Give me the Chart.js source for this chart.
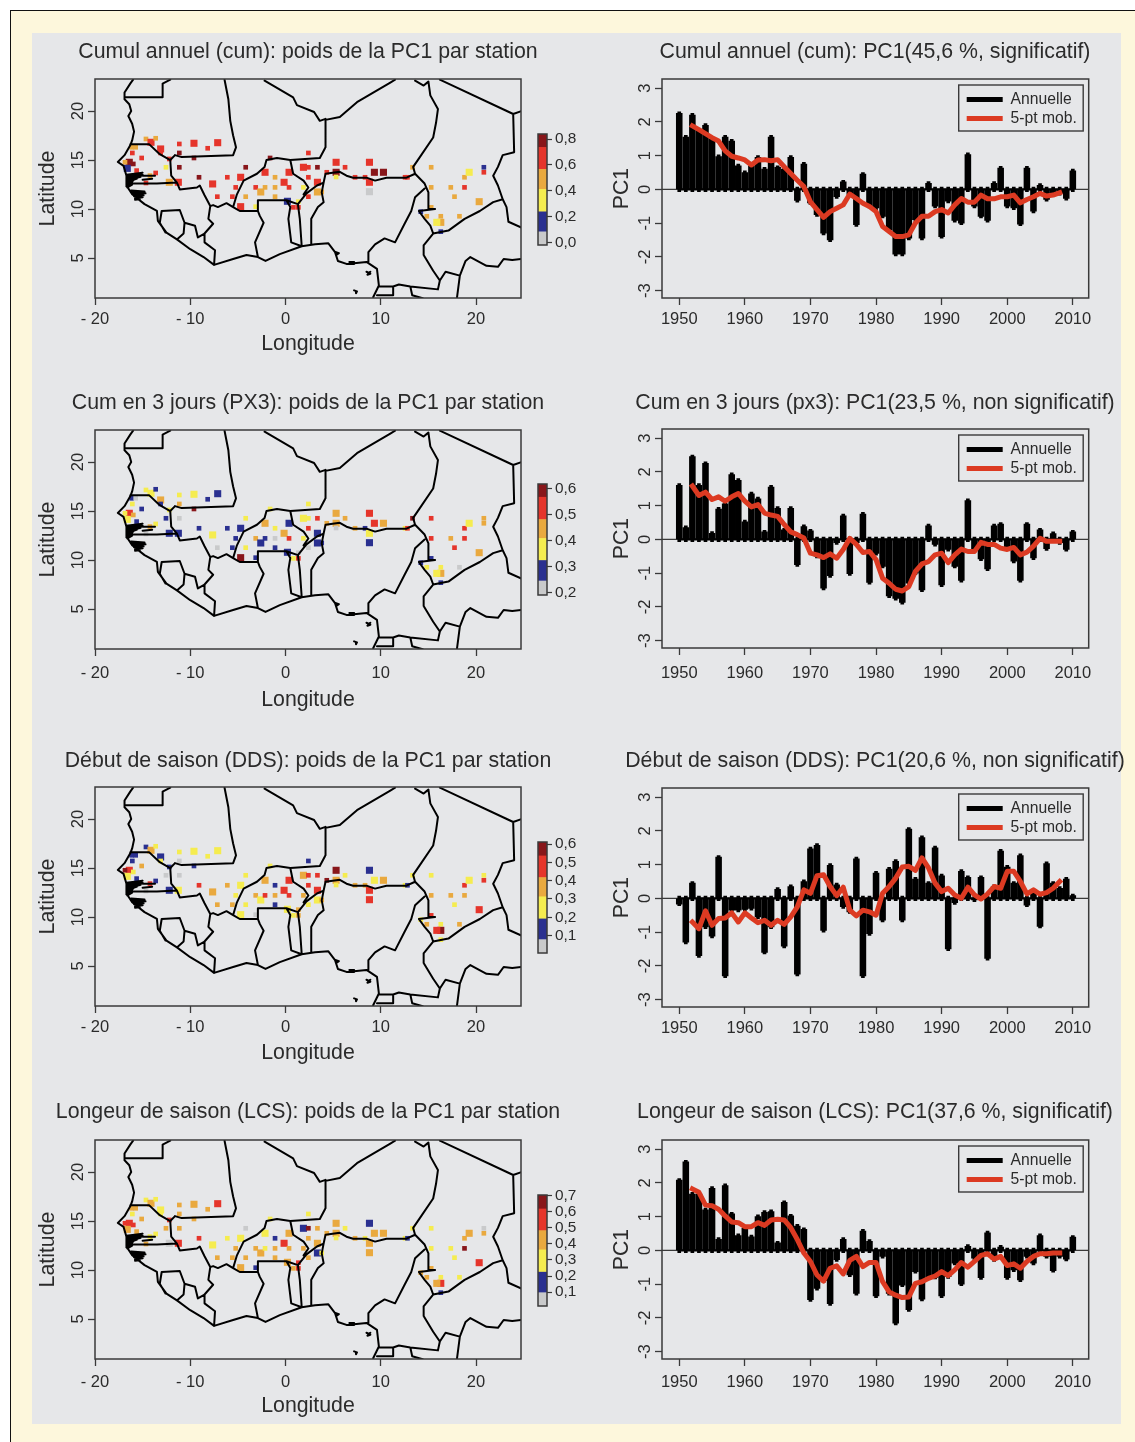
<!DOCTYPE html>
<html lang="fr">
<head>
<meta charset="utf-8">
<title>PC1 par station</title>
<script src="https://cdn.jsdelivr.net/npm/chart.js@4"></script>
<style>
html,body{margin:0;padding:0;background:#fff;overflow:hidden;width:1135px;height:1442px}
#cream{position:absolute;left:10px;top:10px;width:1140px;height:1450px;background:#fdf7dc;border:1px solid #111;box-sizing:border-box}
#panel{position:absolute;left:32px;top:33px;width:1089px;height:1391px;background:#e6e7e9}
canvas{position:absolute}
</style>
</head>
<body>
<div id="cream"></div>
<div id="panel"></div>
<script>
/* ---------- station positions (degrees) ---------- */
const stationLon = [-16.40,-16.85,-15.98,-16.61,-15.63,-16.15,-15.73,-16.08,-15.10,-14.65,-14.12,-13.63,-13.11,-13.11,-12.20,-12.55,-13.63,-14.23,-14.65,-12.20,-11.25,-11.15,-11.15,-9.61,-9.61,-11.15,-8.17,-7.12,-9.08,-7.65,-7.16,-6.11,-5.58,-5.23,-4.71,-4.71,-4.18,-4.18,-3.13,-3.13,-2.60,-2.15,-2.15,-1.62,-1.10,-1.10,-1.10,-0.15,0.37,0.37,0.20,1.35,1.35,0.83,1.88,2.40,1.88,2.40,2.40,2.40,3.35,3.35,3.35,3.80,4.33,5.31,5.31,5.31,6.25,7.30,8.35,8.81,8.81,8.81,9.33,10.28,12.55,12.80,13.33,15.29,15.29,17.35,17.74,18.79,18.79,19.28,20.33,20.82,20.82,18.26,16.30,16.30,15.88,16.30,14.83,14.20,15.29];
const stationLat = [14.77,14.77,14.60,14.15,13.92,16.30,16.30,15.72,15.21,17.15,16.81,17.22,16.13,15.72,15.11,14.26,13.68,13.41,12.66,12.73,12.73,16.64,15.72,16.71,15.21,14.26,16.20,16.77,13.24,12.56,11.26,13.24,11.26,12.21,13.24,10.24,14.26,11.26,12.21,10.24,11.74,12.21,13.75,15.21,13.24,12.21,11.26,12.73,13.75,12.21,10.79,10.75,10.17,10.17,12.21,11.26,14.26,14.26,15.72,13.24,14.26,12.73,11.74,11.74,13.75,14.77,13.75,13.27,14.26,13.24,13.24,14.77,12.73,11.77,13.75,13.75,13.24,13.24,14.26,14.26,12.21,12.21,11.26,13.24,12.21,13.75,10.75,14.26,13.75,9.26,9.26,8.64,8.64,7.69,9.26,9.73,10.17];
const stationBig = [1,0,0,1,0,0,0,0,0,0,1,0,1,0,0,0,0,0,0,1,1,0,0,1,0,0,0,1,0,1,0,0,0,0,1,1,0,0,0,0,1,0,1,0,0,0,0,1,1,0,1,0,0,0,0,0,1,0,0,0,0,1,1,0,0,1,1,0,0,0,0,1,1,1,1,1,0,0,0,0,0,0,0,0,0,1,1,0,0,0,0,1,1,0,0,0,0];

/* ---------- PC1 weights per station ---------- */
const weightsCum = [.79,.49,.79,.16,.65,.49,.49,.65,.65,.49,.65,.49,.65,.65,.65,.32,.65,.49,.65,.49,.65,.65,.79,.65,.79,.79,.65,.65,.79,.65,.65,.65,.65,.65,.65,.65,.79,.49,.65,.32,.49,.49,.65,.79,.49,.49,.49,.65,.65,.65,.16,.32,.65,.65,.32,.65,.65,.65,.65,.65,.79,.65,.49,.49,.65,.65,.79,.32,.65,.65,.65,.65,.65,.03,.79,.79,.65,.65,.49,.49,.49,.49,.49,.49,.65,.32,.49,.16,.65,.49,.49,.49,.32,.16,.49,.16,.49];
const weightsPx3 = [.52,.37,.45,.37,.28,.28,.22,.37,.28,.37,.37,.28,.45,.28,.37,.28,.37,.45,.22,.28,.28,.37,.45,.37,.59,.22,.28,.28,.28,.37,.22,.28,.28,.28,.28,.59,.37,.37,.45,.28,.28,.28,.45,.37,.37,.22,.28,.45,.28,.52,.28,.22,.52,.37,.37,.22,.37,.37,.37,.52,.52,.28,.28,.28,.45,.45,.45,.22,.45,.45,.28,.52,.37,.28,.52,.45,.37,.52,.59,.52,.52,.45,.52,.52,.52,.37,.45,.45,.45,.22,.37,.45,.37,.28,.37,.28,.28];
const weightsDds = [.47,.57,.25,.25,.13,.13,.13,.13,.36,.13,.36,.25,.13,.25,.13,.04,.13,.47,.04,.13,.25,.25,.04,.25,.13,.04,.25,.25,.47,.36,.36,.36,.36,.25,.25,.25,.25,.25,.36,.04,.25,.47,.36,.25,.13,.36,.13,.47,.47,.47,.25,.36,.36,.25,.36,.25,.36,.47,.13,.47,.47,.47,.25,.36,.57,.57,.36,.25,.25,.36,.36,.13,.47,.47,.25,.36,.25,.13,.25,.25,.36,.36,.25,.47,.36,.25,.47,.25,.47,.36,.25,.57,.47,.25,.36,.25,.47];
const weightsLcs = [.55,.55,.55,.42,.42,.42,.42,.29,.42,.29,.42,.29,.29,.29,.55,.42,.29,.29,.42,.05,.55,.42,.42,.42,.42,.42,.42,.55,.55,.29,.42,.29,.42,.42,.29,.42,.05,.42,.42,.16,.42,.29,.29,.29,.16,.42,.42,.55,.42,.42,.42,.55,.55,.42,.42,.42,.16,.66,.29,.42,.42,.42,.16,.29,.42,.42,.42,.29,.29,.42,.29,.16,.42,.42,.42,.42,.29,.16,.29,.29,.29,.29,.29,.42,.66,.42,.55,.05,.42,.29,.29,.55,.42,.16,.42,.42,.42];

/* ---------- colour bins of each map ---------- */
const binColors = ['#c9cacb','#2a3090','#f5ec4f','#e9a93f','#e5352b','#88161a'];
const breaksCum = [-.02,.082,.237,.411,.566,.736,.84];
const breaksPx3 = [.191,.245,.324,.409,.482,.568,.619];
const breaksDds = [.005,.078,.191,.312,.417,.535,.611];
const breaksLcs = [.013,.096,.224,.363,.483,.618,.705];
const ticksCum = [0,.2,.4,.6,.8];
const ticksPx3 = [.2,.3,.4,.5,.6];
const ticksDds = [.1,.2,.3,.4,.5,.6];
const ticksLcs = [.1,.2,.3,.4,.5,.6,.7];

/* ---------- axis ticks ---------- */
const lonTicks = [-20,-10,0,10,20];
const lonLabels = ['- 20','- 10','0','10','20'];
const latTicks = [5,10,15,20];
const yearTicks = [1950,1960,1970,1980,1990,2000,2010];
const pcTicks = [-3,-2,-1,0,1,2,3];

/* ---------- PC1 time series ---------- */
const years = [1950,1951,1952,1953,1954,1955,1956,1957,1958,1959,1960,1961,1962,1963,1964,1965,1966,1967,1968,1969,1970,1971,1972,1973,1974,1975,1976,1977,1978,1979,1980,1981,1982,1983,1984,1985,1986,1987,1988,1989,1990,1991,1992,1993,1994,1995,1996,1997,1998,1999,2000,2001,2002,2003,2004,2005,2006,2007,2008,2009,2010];
const yearsMob = [1952,1953,1954,1955,1956,1957,1958,1959,1960,1961,1962,1963,1964,1965,1966,1967,1968,1969,1970,1971,1972,1973,1974,1975,1976,1977,1978,1979,1980,1981,1982,1983,1984,1985,1986,1987,1988,1989,1990,1991,1992,1993,1994,1995,1996,1997,1998,1999,2000,2001,2002,2003,2004,2005,2006,2007,2008];

const annualCum = [2.25,1.55,2.2,1.75,1.9,1.5,.97,1.55,1.43,.7,.5,.7,.95,.6,1.55,.65,.6,.95,-.33,.75,-.4,-.75,-1.3,-1.5,-.22,.22,-.15,-1.05,.45,-.5,-.55,-.8,-1.2,-1.92,-1.92,-1.45,-.9,-1.45,.18,-.5,-1.4,-.35,-.92,-1,1.03,-.5,-.8,-.92,.18,.63,-.5,-.55,-1.03,.63,-.65,.12,-.3,-.12,-.12,-.27,.55];
const mobCum = [1.88,1.77,1.65,1.53,1.43,1.14,.98,.93,.87,.72,.87,.88,.85,.88,.67,.47,.27,.08,-.37,-.6,-.83,-.66,-.56,-.46,-.14,-.27,-.41,-.51,-.66,-1.1,-1.25,-1.4,-1.4,-1.35,-1,-.8,-.8,-.66,-.6,-.7,-.46,-.27,-.38,-.38,-.17,-.28,-.28,-.22,-.22,-.17,-.4,-.3,-.22,-.12,-.2,-.17,-.1];

const annualPx3 = [1.6,.35,2.45,1.6,2.25,.18,.9,1.05,1.92,1.75,.52,1.35,1.2,.22,1.55,.92,.28,.92,-.75,.38,.25,-.5,-1.45,-1.08,-.1,.7,-1.02,-.1,.75,-1.28,-.42,-.8,-1.68,-1.75,-1.87,-1.3,-1,-1.5,.4,-.15,-1.35,-.3,-.8,-1.22,1.15,-.3,-.58,-.88,.4,.45,-.22,-.65,-1.22,.45,-.55,.28,-.28,.17,-.1,-.3,.22];
const mobPx3 = [1.58,1.3,1.4,1.18,1.26,1.13,1.26,1.36,1.13,.96,1.03,.78,.72,.68,.44,.22,.14,.04,-.41,-.46,-.54,-.43,-.56,-.3,.03,-.15,-.39,-.36,-.6,-1.15,-1.3,-1.48,-1.53,-1.4,-.95,-.73,-.66,-.46,-.41,-.69,-.46,-.29,-.36,-.36,-.09,-.15,-.15,-.26,-.3,-.24,-.46,-.38,-.2,.03,-.06,-.06,-.06];

const annualDds = [-.17,-1.3,.45,-1.7,-.85,-1.12,1.22,-2.3,-.35,-.35,-.33,-.3,-.55,-1.6,-.85,.27,-1.42,.35,-2.25,.5,1.47,1.57,-.95,.98,.4,-.25,-.4,1.17,-2.3,-1.05,.75,-.65,.87,1.1,-.65,2.05,.57,1.8,.45,1.5,.67,-1.5,-.13,.8,.62,-.05,.62,-1.78,.35,1.4,.93,.45,1.27,-.2,.2,-.83,1.03,.45,.3,.57,.08];
const mobDds = [-.7,-.9,-.37,-.8,-.6,-.58,-.43,-.7,-.43,-.58,-.72,-.65,-.8,-.65,-.77,-.55,-.25,.25,.15,.67,.7,.35,.08,.33,-.35,-.52,-.35,-.4,-.5,.15,.35,.6,.93,.95,.83,1.2,.9,.45,.2,.3,.1,0,.33,.1,-.02,.13,.35,.3,.8,.8,.5,.13,.25,.12,.17,.3,.5];

const annualLcs = [2.08,2.62,1.67,1.67,1.2,1.84,.33,1.92,1.08,.44,.65,.4,1,1.13,1.15,.22,1.42,1.02,.72,.62,-1.46,-1.13,-.9,-1.58,-.28,.33,-.73,-1.28,.57,.27,-1.35,-.18,-1.28,-2.16,-1.03,-1.76,-.63,-1.45,-.8,-.8,-1.35,-.78,-.38,-1,.12,-.23,-.81,.52,-.28,.1,-.81,-.58,-.88,-.18,-.38,.44,-.18,-.6,-.18,-.26,.39];
const mobLcs = [1.82,1.72,1.34,1.32,1.22,1.02,.84,.82,.7,.7,.82,.74,.9,.92,.9,.67,.32,-.08,-.33,-.73,-.91,-.53,-.46,-.7,-.3,-.18,-.48,-.36,-.36,-.93,-1.23,-1.33,-1.4,-1.38,-.98,-.93,-.83,-.76,-.63,-.75,-.58,-.36,-.5,-.33,-.15,-.1,-.26,-.18,-.45,-.4,-.53,-.33,-.18,-.1,-.1,-.08,-.08];

/* ---------- map outlines: each list is lon,lat,lon,lat,... ---------- */
const coastWest = [-16.0,23.2,-16.3,22.8,-16.9,21.9,-16.9,21.2,-16.4,20.7,-16.2,20.0,-16.5,19.5,-16.1,18.7,-15.9,17.9,-16.1,17.0,-16.3,16.5,-16.9,15.5,-17.6,14.8,-17.0,14.4,-16.7,13.4,-16.7,12.4,-16.1,11.5,-14.8,10.5,-13.5,9.8,-13.4,8.8,-12.5,7.6,-11.4,6.9,-10.0,5.9,-8.6,5.1,-7.5,4.3,-5.5,4.9,-4.1,5.3,-2.9,5.1,-2.1,4.7,-0.6,5.4,1.7,6.2,3.1,6.4,4.5,6.5,5.2,5.6,5.5,4.7,6.4,4.4,8.5,4.6,9.6,3.9,9.8,2.2,9.2,1.0];
const borderLines = [
 [-16.9,21.4,-12.9,21.4,-12.9,22.8,-12.1,23.2],
 [-6.4,23.2,-6.0,21.2,-5.8,19.0,-5.5,17.5,-5.2,16.3,-5.5,15.5,-10.9,15.3,-11.6,15.5],
 [-16.3,16.6,-14.3,16.6,-13.2,15.6,-12.1,15.0,-11.6,15.5],
 [-12.1,15.0,-12.0,13.4,-11.4,12.7],
 [-11.4,12.7,-13.5,12.6,-16.5,12.6],
 [-11.4,12.7,-11.1,12.0,-9.3,12.2,-9.0,12.4,-8.5,11.4,-7.9,10.3,-7.6,10.4,-7.1,10.2,-6.2,10.6,-5.5,10.2],
 [-5.5,10.2,-5.1,11.5,-4.4,12.9,-3.0,13.6,-2.2,14.3,-2.0,15.0,-0.9,15.2,0.5,15.0],
 [-5.5,10.2,-4.8,9.8,-2.9,9.8,-2.9,10.9,0.1,10.9,1.3,10.5,2.2,11.6,3.3,12.4,4.0,12.7],
 [0.5,15.0,0.8,13.6,1.9,12.9,2.4,12.2,1.9,11.5],
 [4.0,12.7,4.2,13.6,5.7,13.8,6.4,13.4,7.1,13.2,8.5,13.2,9.4,12.9,10.6,13.2,12.7,13.2,13.6,13.6],
 [4.0,12.7,3.8,11.7,4.0,10.7,3.4,10.2,2.7,9.0,2.7,6.4],
 [-2.9,9.8,-2.7,9.3,-2.3,8.6,-3.2,6.6,-2.9,5.1],
 [0.1,10.9,0.5,10.2,0.3,9.0,0.6,6.6,1.7,6.2],
 [1.3,10.5,1.5,9.0,1.7,6.2],
 [-7.9,10.3,-8.1,9.0,-7.6,8.5,-8.5,7.5,-8.5,6.6,-7.4,5.8,-7.5,4.3],
 [-12.6,7.6,-13.2,8.6,-13.0,9.8,-11.1,9.9,-10.6,8.6,-10.7,7.5,-11.4,6.9],
 [-10.6,8.6,-9.5,8.3,-9.2,7.1,-8.5,7.5],
 [-2.2,23.1,0.8,21.4,1.2,20.6,3.0,19.9,3.6,19.0,4.2,19.2],
 [4.2,19.2,4.2,16.3,3.6,15.2,0.5,15.0],
 [4.2,19.1,5.7,19.4,7.5,20.9,11.0,22.9,11.5,23.2],
 [13.6,23.1,14.5,22.6,15.0,23.0],
 [16.2,23.2,23.9,19.7,24.8,20.0],
 [15.0,23.0,15.2,21.6,16.0,20.2,15.8,18.8,15.5,17.3,14.1,15.3,13.4,14.3,13.6,13.6,14.6,12.6,15.0,11.7,15.0,10.0,15.7,10.0],
 [15.7,10.0,14.0,9.8,14.6,9.0,15.2,8.3,15.5,7.5],
 [23.9,19.7,24.0,15.8,22.8,15.5,22.3,14.3,21.8,13.4,22.3,12.4,22.8,11.0],
 [22.8,11.0,21.8,10.7,20.4,9.8,18.8,9.0,17.1,7.8,15.5,7.5],
 [22.8,11.0,23.2,10.2,23.4,8.7,24.8,8.1],
 [14.6,12.1,13.6,11.2,13.2,9.8,12.5,8.5,11.5,6.6,10.4,7.0,9.4,6.4,8.7,5.6,8.7,4.6],
 [15.5,7.5,14.5,6.3,14.5,5.3,15.5,3.7,16.2,2.7,16.0,1.8],
 [16.0,1.8,13.1,2.1,11.9,2.3,11.3,2.1,9.8,2.1],
 [11.3,2.1,11.3,1.2,9.6,1.2],
 [13.1,2.1,13.3,1.2,14.4,0.9],
 [16.2,2.7,16.8,3.6,18.3,3.2,18.0,0.95],
 [18.3,3.2,18.9,4.7,19.4,5.1,21.1,4.2,22.3,4.1,22.9,4.9,23.8,4.8,24.8,4.9],
 [-16.7,13.5,-15.0,13.7,-16.7,13.3,-15.0,13.5,-16.7,13.1,-15.2,13.3,-16.7,12.9,-15.6,13.1,-16.7,12.7,-16.0,12.9,-16.7,12.5,-16.1,12.7,-16.7,12.3,-16.1,12.5,-16.6,12.2],
 [-15.0,13.4,-13.7,13.4],
 [-15.0,13.0,-14.0,13.1],
 [-16.2,11.9,-14.8,11.8,-16.1,11.7,-14.7,11.6,-16.0,11.5,-14.9,11.4,-15.9,11.3,-15.0,11.2,-15.8,11.1,-15.3,11.0,-15.8,10.95],
 [8.5,3.6,8.9,3.4,8.6,3.3,8.9,3.6],
 [7.2,1.7,7.5,1.6,7.4,1.4],
 [6.7,4.6,7.2,4.6,7.2,4.4,6.7,4.4],
 [5.3,5.6,5.6,5.5,5.3,5.3]
];

/* ---------- page layout ---------- */
const FONT = '"Liberation Sans", Arial, sans-serif';
const INK = '#2b2b2b';
const TITLE_SIZE = 21.3;
Chart.defaults.font.family = FONT;
Chart.defaults.color = INK;
Chart.defaults.animation = false;

const frame = {
  id:'frame',
  afterDatasetsDraw(c){
    const a=c.chartArea,x=c.ctx;
    x.save();x.strokeStyle='#3a3a3a';x.lineWidth=1.5;
    x.strokeRect(a.left,a.top,a.right-a.left,a.bottom-a.top);
    x.restore();
  }
};
const wideTitle = {
  id:'wideTitle',
  afterLayout(c){ if(c.titleBlock){c.titleBlock.left=0;c.titleBlock.right=c.width;} }
};
const legendBox = {
  id:'legendBox',
  afterLayout(c){
    const a=c.chartArea,l=c.legend;
    l.top=a.top+9.3; l.bottom=a.bottom; l.left=a.right-125.3; l.right=a.right;
  },
  afterDatasetsDraw(c){
    const a=c.chartArea,x=c.ctx;
    x.save();x.strokeStyle='#3a3a3a';x.lineWidth=1.4;
    x.strokeRect(a.right-130,a.top+6,124.5,46);
    x.restore();
  }
};

function addCanvas(left,top,w,h){
  const c=document.createElement('canvas');
  c.width=w;c.height=h;
  c.style.left=left+'px';c.style.top=top+'px';c.style.width=w+'px';c.style.height=h+'px';
  document.body.appendChild(c);
  return c;
}
function toPoints(flat){const p=[];for(let i=0;i<flat.length;i+=2)p.push({x:flat[i],y:flat[i+1]});return p;}
function setTicks(list){return s=>{s.ticks=list.map(v=>({value:v}));};}
function titleOpts(text,off){
  const size=TITLE_SIZE,lh=size*1.2,t=51-off-lh/2;
  return {display:true,text,color:INK,font:{size,weight:'normal',family:FONT},padding:{top:t,bottom:50-t-lh}};
}

function drawMap(o){
  const outline=[coastWest,...borderLines];
  const lines=[];
  outline.forEach(l=>{lines.push(...toPoints(l));lines.push({x:null,y:null});});
  const pts=stationLon.map((lon,i)=>({x:lon,y:stationLat[i]}));
  const colour=w=>{let k=0;for(let b=0;b<6;b++)if(w>=o.breaks[b])k=b;return binColors[k];};
  new Chart(addCanvas(32,o.top-50,552,339),{
    type:'scatter',
    data:{datasets:[
      {label:'Frontières',data:lines,showLine:true,borderColor:'#000',borderWidth:2,borderJoinStyle:'round',borderCapStyle:'round',pointRadius:0,spanGaps:false,tension:0,order:0},
      {label:'Stations',data:pts,showLine:false,pointStyle:'rect',borderWidth:0,
       pointRadius:stationBig.map(b=>b?5:3.3),
       pointBackgroundColor:o.weights.map(colour),order:1}
    ]},
    options:{
      responsive:false,
      layout:{padding:{right:63},autoPadding:false},
      plugins:{legend:{display:false},tooltip:{enabled:false},title:titleOpts(o.title,o.titleOff)},
      scales:{
        x:{type:'linear',min:-20,max:24.72,
           grid:{drawOnChartArea:false,tickLength:7,tickColor:'#3a3a3a',tickWidth:1.3},border:{display:false},
           afterBuildTicks:setTicks(lonTicks),afterFit(s){s.height=70;},
           ticks:{autoSkip:false,maxRotation:0,padding:o.labelOff-15,color:INK,font:{size:16.5},
                  callback:v=>lonLabels[lonTicks.indexOf(v)]},
           title:{display:true,text:'Longitude',color:INK,font:{size:TITLE_SIZE},padding:{top:0,bottom:56-o.nameOff}}},
        y:{type:'linear',min:0.92,max:23.27,
           grid:{drawOnChartArea:false,tickLength:7,tickColor:'#3a3a3a',tickWidth:1.3},border:{display:false},
           afterBuildTicks:setTicks(latTicks),afterFit(s){s.width=63;},
           ticks:{autoSkip:false,minRotation:90,maxRotation:90,crossAlign:'center',padding:0,color:INK,font:{size:16.5}},
           title:{display:true,text:'Latitude',color:INK,font:{size:TITLE_SIZE},padding:{top:3,bottom:0}}}
      }
    },
    plugins:[frame,wideTitle]
  });
  /* colour bar */
  const b=o.breaks;
  new Chart(addCanvas(530,o.barTop-20,60,o.barH+40),{
    type:'bar',
    data:{labels:[''],datasets:binColors.map((col,i)=>({label:'bin'+i,data:[[b[i],b[i+1]]],backgroundColor:col,grouped:false,barPercentage:1,categoryPercentage:1}))},
    options:{
      responsive:false,
      layout:{padding:{left:8,top:20,bottom:20},autoPadding:false},
      plugins:{legend:{display:false},tooltip:{enabled:false},title:{display:false}},
      scales:{
        x:{display:false},
        y:{position:'right',min:b[0],max:b[6],
           grid:{drawOnChartArea:false,tickLength:5,tickColor:'#3a3a3a',tickWidth:1.2},border:{display:false},
           afterBuildTicks:setTicks(o.ticks),afterFit(s){s.width=43;},
           ticks:{autoSkip:false,padding:3,color:INK,font:{size:15.4},callback:v=>v.toFixed(1).replace('.',',')}}
      }
    },
    plugins:[frame]
  });
}

function drawSeries(o){
  const XMIN=1947.37,XMAX=2012.42;
  const bars=years.map((y,i)=>({x:y,y:o.annual[i]}));
  const caps=years.map((y,i)=>{const v=o.annual[i],s=v>=0?1:-1;return {x:y,y:[-.07*s,v+.05*s]};});
  const mob=yearsMob.map((y,i)=>({x:y,y:o.mob[i]}));
  new Chart(addCanvas(605,o.top-50,540,339),{
    type:'bar',
    data:{datasets:[
      {type:'line',label:'5-pt mob.',data:mob,borderColor:'#dc3a22',backgroundColor:'#dc3a22',borderWidth:5,pointRadius:0,tension:0,borderCapStyle:'square',borderJoinStyle:'round',order:0},
      {type:'line',label:'zero-span',data:[{x:years[0],y:0},{x:years[years.length-1],y:0}],borderColor:'#000',borderWidth:2.2,pointRadius:0,order:1},
      {type:'line',label:'zero',data:[{x:XMIN,y:0},{x:XMAX,y:0}],borderColor:'#3a3a3a',borderWidth:1.2,pointRadius:0,order:3},
      {type:'bar',label:'Annuelle',data:bars,backgroundColor:'#000',barThickness:5.9,grouped:false,order:2},
      {type:'bar',label:'caps',data:caps,backgroundColor:'#000',barThickness:3,grouped:false,order:2}
    ]},
    options:{
      responsive:false,
      layout:{padding:{right:56.3},autoPadding:false},
      plugins:{
        tooltip:{enabled:false},
        title:titleOpts(o.title,o.titleOff),
        legend:{position:'chartArea',align:'start',
          labels:{boxWidth:36,boxHeight:5,padding:3.3,color:INK,font:{size:15.7},
            generateLabels:c=>['Annuelle','5-pt mob.'].map(t=>{
              const ds=c.data.datasets.find(d=>d.label===t);
              return {text:t,fillStyle:ds.backgroundColor,strokeStyle:ds.backgroundColor,lineWidth:0,hidden:false,fontColor:INK,datasetIndex:c.data.datasets.indexOf(ds)};
            })}}
      },
      scales:{
        x:{type:'linear',offset:false,min:XMIN,max:XMAX,
           grid:{offset:false,drawOnChartArea:false,tickLength:7,tickColor:'#3a3a3a',tickWidth:1.3},border:{display:false},
           afterBuildTicks:setTicks(yearTicks),afterFit(s){s.height=70;},
           ticks:{autoSkip:false,maxRotation:0,padding:o.labelOff-15,color:INK,font:{size:16.5},callback:v=>String(v)}},
        y:{type:'linear',min:-3.22,max:3.27,
           grid:{drawOnChartArea:false,tickLength:7,tickColor:'#3a3a3a',tickWidth:1.3},border:{display:false},
           afterBuildTicks:setTicks(pcTicks),afterFit(s){s.width=57;},
           ticks:{autoSkip:false,minRotation:90,maxRotation:90,crossAlign:'center',padding:2,color:INK,font:{size:16.5},callback:v=>String(v)},
           title:{display:true,text:'PC1',color:INK,font:{size:TITLE_SIZE},padding:{top:4,bottom:0}}}
      }
    },
    plugins:[frame,wideTitle,legendBox]
  });
}

drawMap({title:'Cumul annuel (cum): poids de la PC1 par station',top:79,titleOff:28,labelOff:20,nameOff:45,weights:weightsCum,breaks:breaksCum,ticks:ticksCum,barTop:134,barH:111});
drawMap({title:'Cum en 3 jours (PX3): poids de la PC1 par station',top:430,titleOff:28,labelOff:23,nameOff:50,weights:weightsPx3,breaks:breaksPx3,ticks:ticksPx3,barTop:484,barH:111});
drawMap({title:'Début de saison (DDS): poids de la PC1 par station',top:787,titleOff:27,labelOff:20,nameOff:46,weights:weightsDds,breaks:breaksDds,ticks:ticksDds,barTop:842,barH:111});
drawMap({title:'Longeur de saison (LCS): poids de la PC1 par station',top:1140,titleOff:29,labelOff:22,nameOff:46,weights:weightsLcs,breaks:breaksLcs,ticks:ticksLcs,barTop:1195,barH:111});

drawSeries({title:'Cumul annuel (cum): PC1(45,6 %, significatif)',top:79,titleOff:28,labelOff:20,annual:annualCum,mob:mobCum});
drawSeries({title:'Cum en 3 jours (px3): PC1(23,5 %, non significatif)',top:429,titleOff:27,labelOff:24,annual:annualPx3,mob:mobPx3});
drawSeries({title:'Début de saison (DDS): PC1(20,6 %, non significatif)',top:788,titleOff:28,labelOff:20,annual:annualDds,mob:mobDds});
drawSeries({title:'Longeur de saison (LCS): PC1(37,6 %, significatif)',top:1140,titleOff:29,labelOff:22,annual:annualLcs,mob:mobLcs});
</script>
</body>
</html>
